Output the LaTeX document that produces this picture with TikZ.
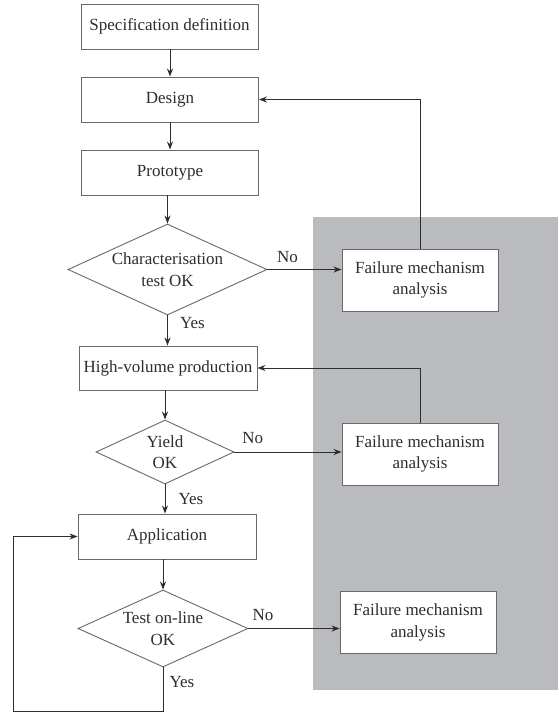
\documentclass[tikz,border=0pt]{standalone}
\usepackage{fontspec}
\setmainfont{Liberation Serif}
\usetikzlibrary{shapes.geometric,arrows.meta}

\definecolor{panelgray}{RGB}{185,187,191}
\definecolor{edgegray}{RGB}{105,105,105}
\definecolor{inkgray}{RGB}{45,45,45}

\tikzset{
  every node/.style={font=\fontsize{17}{21.5}\selectfont, text=inkgray},
  stage/.style={draw=edgegray, fill=white, line width=0.9pt, minimum width=177pt, minimum height=45pt, inner sep=0pt},
  check/.style={diamond, draw=edgegray, fill=white, line width=0.9pt, shape aspect=2.2, inner sep=0pt, align=center},
  fma/.style={draw=edgegray, fill=white, line width=0.9pt, minimum width=156pt, minimum height=62pt, inner sep=0pt, align=center},
  flow/.style={draw=inkgray, line width=1pt, -{Stealth[length=8pt,width=6pt]}},
  lbl/.style={inner sep=0pt},
}

\begin{document}
\begin{tikzpicture}[x=1pt,y=-1pt]
    \useasboundingbox (0,0) rectangle (558,713);

    % Define the positions of the stages
    \coordinate (specPos) at (169.5,26.5);
    \coordinate (designPos) at (170,99.5);
    \coordinate (protoPos) at (170,172.5);
    \coordinate (charPos) at (167.5,269.5);
    \coordinate (hvpPos) at (168,368);
    \coordinate (yieldPos) at (165,452);
    \coordinate (appPos) at (167,536.5);
    \coordinate (onlinePos) at (163,628.5);
    \coordinate (fma1Pos) at (420,280);
    \coordinate (fma2Pos) at (420,454);
    \coordinate (fma3Pos) at (418,622.5);
    \coordinate (loopPos) at (13,711);

    % Shaded area behind the failure analyses
    \fill[panelgray] (313,217) rectangle (558,690);

    % Draw the stages
    \node[stage] (spec) at (specPos) {Specification definition};
    \node[stage] (design) at (designPos) {Design};
    \node[stage] (proto) at (protoPos) {Prototype};
    \node[check, minimum width=199pt, minimum height=91pt] (char) at (charPos) {Characterisation\\test OK};
    \node[stage, minimum width=178pt, minimum height=44pt] (hvp) at (hvpPos) {High-volume production};
    \node[check, minimum width=138pt, minimum height=64pt] (yield) at (yieldPos) {Yield\\OK};
    \node[stage, minimum width=178pt] (app) at (appPos) {Application};
    \node[check, minimum width=170pt, minimum height=77pt] (online) at (onlinePos) {Test on-line\\OK};
    \node[fma] (fma1) at (fma1Pos) {Failure mechanism\\analysis};
    \node[fma] (fma2) at (fma2Pos) {Failure mechanism\\analysis};
    \node[fma] (fma3) at (fma3Pos) {Failure mechanism\\analysis};

    % Draw the main flow
    \draw[flow] (spec.south -| design.north) -- (design.north);
    \draw[flow] (design.south) -- (proto.north);
    \draw[flow] (proto.south -| char.north) -- (char.north);
    \draw[flow] (char.south) -- node[lbl, pos=0.25, anchor=west, xshift=12pt] {Yes} (char.south |- hvp.north);
    \draw[flow] (hvp.south -| yield.north) -- (yield.north);
    \draw[flow] (yield.south) -- node[lbl, pos=0.5, anchor=west, xshift=13pt] {Yes} (yield.south |- app.north);
    \draw[flow] (app.south -| online.north) -- (online.north);

    % Draw the failure branches
    \draw[flow] (char.east) -- node[lbl, pos=0.27, yshift=12pt] {No} (char.east -| fma1.west);
    \draw[flow] (yield.east) -- node[lbl, pos=0.17, yshift=14pt] {No} (yield.east -| fma2.west);
    \draw[flow] (online.east) -- node[lbl, pos=0.16, yshift=13pt] {No} (online.east -| fma3.west);

    % Draw the feedback lines
    \draw[flow] (fma1.north) |- (design.east);
    \draw[flow] (fma2.north) |- (hvp.east);
    \draw[flow] (online.south) -- node[lbl, pos=0.34, anchor=west, xshift=6pt] {Yes} (online.south |- loopPos) -- (loopPos) |- (app.west);
\end{tikzpicture}
\end{document}
